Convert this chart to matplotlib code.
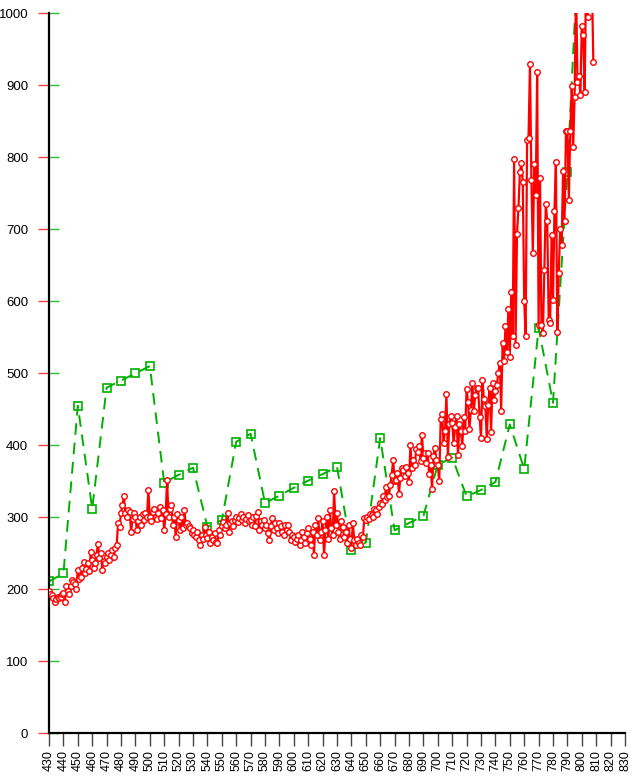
import matplotlib
matplotlib.use("Agg")
import matplotlib.pyplot as plt

plt.rcParams['font.family'] = ['Liberation Sans', 'DejaVu Sans']

# sampled series (red), one value per unit from 430 to 808
red_start = 430
red_vals = [
    197, 194, 192, 188, 183, 186, 190, 188, 190, 193,
    195, 183, 204, 198, 194, 205, 213, 210, 208, 201,
    227, 215, 217, 230, 238, 222, 228, 236, 225, 252,
    241, 230, 236, 248, 263, 244, 250, 227, 240, 236,
    245, 250, 241, 248, 255, 245, 258, 262, 292, 287,
    306, 317, 329, 306, 300, 310, 308, 280, 298, 306,
    300, 282, 295, 301, 290, 305, 296, 306, 300, 338,
    301, 295, 308, 312, 301, 298, 306, 315, 299, 310,
    282, 305, 352, 300, 312, 317, 290, 301, 273, 305,
    296, 282, 300, 285, 310, 290, 292, 288, 285, 278,
    282, 275, 273, 280, 268, 262, 276, 270, 287, 275,
    271, 280, 265, 272, 268, 278, 266, 264, 282, 275,
    288, 294, 285, 290, 306, 280, 292, 295, 288, 296,
    300, 294, 299, 305, 296, 300, 292, 298, 303, 295,
    296, 290, 300, 288, 302, 308, 282, 295, 290, 296,
    285, 290, 278, 268, 288, 299, 282, 292, 285, 278,
    292, 288, 280, 275, 289, 282, 289, 280, 268, 276,
    272, 266, 270, 275, 261, 268, 280, 272, 265, 278,
    285, 270, 262, 280, 248, 290, 275, 299, 268, 280,
    295, 248, 282, 300, 270, 310, 285, 276, 336, 290,
    306, 280, 270, 295, 287, 272, 280, 264, 290, 270,
    258, 292, 268, 262, 270, 265, 261, 275, 273, 299,
    296, 300, 298, 305, 303, 300, 312, 310, 305, 315,
    320, 318, 330, 324, 342, 328, 329, 345, 359, 380,
    350, 352, 362, 333, 355, 368, 366, 358, 370, 362,
    349, 401, 368, 380, 372, 395, 391, 399, 378, 415,
    382, 389, 375, 389, 360, 373, 340, 385, 396, 380,
    373, 350, 436, 443, 403, 420, 471, 384, 430, 441,
    431, 403, 425, 441, 387, 430, 420, 399, 440, 420,
    478, 460, 423, 449, 487, 447, 470, 480, 479, 440,
    410, 491, 465, 455, 409, 456, 480, 419, 487, 463,
    475, 484, 500, 514, 448, 542, 517, 566, 530, 589,
    523, 613, 552, 797, 539, 694, 729, 779, 792, 766,
    600, 552, 824, 827, 930, 768, 667, 791, 748, 919,
    567, 771, 567, 556, 643, 735, 711, 574, 570, 692,
    602, 725, 793, 558, 640, 700, 678, 781, 711, 836,
    836, 741, 836, 899, 814, 884, 1040, 905, 913, 886,
    983, 970, 891, 1060, 995, 1080, 1020, 1050, 932,
]
red_x = list(range(red_start, red_start + len(red_vals)))

# coarse series (green), every 10 units
green_x = list(range(430, 810, 10))
green_vals = [211, 222, 455, 312, 480, 490, 500, 510, 348, 359,
              369, 287, 296, 405, 416, 320, 330, 341, 351, 360,
              370, 255, 265, 410, 282, 292, 302, 373, 383, 329,
              338, 349, 429, 367, 563, 459, 780, 1190]

x_ticks = list(range(430, 840, 10))
y_ticks = list(range(0, 1100, 100))

fig = plt.figure(figsize=(6.44, 7.77), dpi=100)
ax = fig.add_axes([0.0761, 0.0562, 0.8944, 0.9267])

green = '#00b000'
ax.plot(green_x, green_vals, color=green, lw=1.4, dashes=(6, 4),
        marker='s', ms=5.5, mfc='none', mec=green, mew=1.2, zorder=2)
ax.plot(red_x, red_vals, color='#ff0000', lw=1.6,
        marker='o', ms=4, mfc='white', mec='#ff0000', mew=1.0, zorder=3)

ax.set_xlim(430, 830)
ax.set_ylim(0, 1000)
ax.set_xticks(x_ticks)
ax.set_xticklabels([str(v) for v in x_ticks], rotation=90, fontsize=9)
ax.set_yticks(y_ticks)
ax.set_yticklabels([str(v) for v in y_ticks], fontsize=9.5)

ax.spines['top'].set_visible(False)
ax.spines['right'].set_visible(False)
ax.spines['left'].set_linewidth(1.6)
ax.spines['bottom'].set_linewidth(1.6)

ax.tick_params(axis='x', direction='out', length=9, width=1, color='#444444', pad=3)
ax.tick_params(axis='y', direction='out', length=8, width=1, color='#ff4040', pad=7)

# second set of y ticks pointing inward
sec = ax.secondary_yaxis('left')
sec.set_yticks(y_ticks)
sec.tick_params(direction='in', length=7, width=1, color='#33bb33', labelleft=False)
sec.spines['left'].set_visible(False)

fig.savefig('out.png', dpi=100)
